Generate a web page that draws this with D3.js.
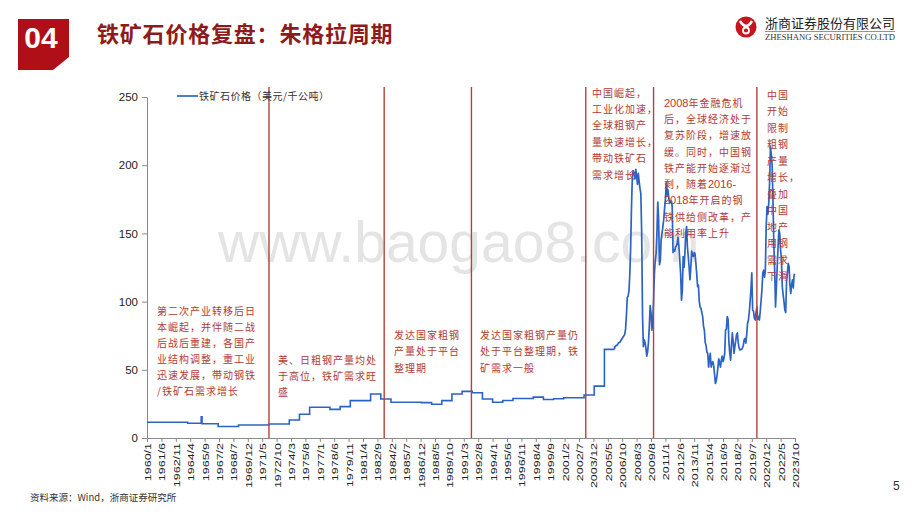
<!DOCTYPE html>
<html><head><meta charset="utf-8">
<script src="https://cdn.jsdelivr.net/npm/d3@7"></script>
<style>
html,body{margin:0;padding:0;background:#fff;}
svg{display:block;}
</style></head><body>
<svg id="c" width="920" height="518"></svg>
<script>
// ---------------- DATA ----------------
const pageTitle = "铁矿石价格复盘：朱格拉周期";
const sectionNo = "04";
const seriesName = "铁矿石价格（美元/千公吨）";
const sourceNote = "资料来源：Wind，浙商证券研究所";
const pageNo = "5";
const yTicks = [0, 50, 100, 150, 200, 250];
const xTickLabels = ["1960/1","1961/6","1962/11","1964/4","1965/9","1967/2","1968/7","1969/12","1971/5","1972/10",
  "1974/3","1975/8","1977/1","1978/6","1979/11","1981/4","1982/9","1984/2","1985/7","1986/12",
  "1988/5","1989/10","1991/3","1992/8","1994/1","1995/6","1996/11","1998/4","1999/9","2001/2",
  "2002/7","2003/12","2005/5","2006/10","2008/3","2009/8","2011/1","2012/6","2013/11","2015/4",
  "2016/9","2018/2","2019/7","2020/12","2022/5","2023/10"];
// contract-price period: month where the price level changes, and the new level
const contractMonths = ["1960/1","1964/1","1965/5","1965/6","1967/1","1969/1","1972/1","1974/1","1975/1","1976/1",
  "1978/1","1979/1","1980/1","1982/1","1983/1","1984/1","1987/1","1988/1","1989/1","1990/1",
  "1991/1","1992/1","1993/1","1994/1","1995/1","1996/1","1997/1","1998/1","1999/1","2000/1",
  "2001/1","2002/1","2003/1","2004/1","2005/1"];
const contractValues = [11.5, 10.8, 15.6, 10.4, 8.4, 9.5, 10.3, 13.2, 17.4, 22.5,
  21.0, 23.0, 27.4, 32.3, 28.6, 26.2, 25.9, 24.7, 27.4, 32.3,
  34.2, 33.2, 28.6, 26.2, 27.5, 29.0, 29.0, 30.0, 28.2, 28.8,
  29.5, 29.5, 31.5, 38.0, 65.0];
// monthly price period
const spotStart = "2006/1";
const spotValues = [
  67, 67, 68, 68, 69, 70, 70, 71, 72, 73, 74, 75,            // 2006
  76, 80, 90, 103, 104, 108, 120, 140, 170, 192, 196, 194,   // 2007
  190, 197, 192, 186, 194, 188, 183, 179, 150, 90, 67, 72,   // 2008
  70, 66, 60, 63, 70, 82, 97, 92, 79, 85, 100, 120,          // 2009
  130, 135, 150, 173, 160, 127, 130, 145, 150, 155, 160, 168,// 2010
  175, 187, 178, 182, 176, 172, 173, 174, 170, 136, 138, 137,// 2011
  140, 141, 143, 147, 140, 130, 120, 101, 108, 133, 125, 135,// 2012
  150, 155, 140, 133, 125, 116, 125, 137, 134, 133, 136, 135,// 2013
  128, 120, 111, 112, 100, 96, 95, 92, 89, 82, 79, 70,       // 2014
  68, 63, 62, 52, 58, 62, 52, 55, 56, 53, 47, 40,            // 2015
  42, 46, 52, 58, 55, 52, 57, 60, 56, 58, 62, 79,            // 2016
  80, 89, 87, 70, 62, 57, 68, 77, 71, 62, 67, 71,            // 2017
  76, 77, 70, 66, 64.5, 65, 65, 66, 68, 72, 73, 69.6,        // 2018
  76, 84, 86.5, 92, 100, 109, 121, 93.8, 93, 88, 86.5, 92,   // 2019
  96, 87, 89, 86.5, 93, 101, 109, 121, 123, 118, 123, 155,   // 2020
  169.6, 164, 172, 187, 213.6, 208, 200, 174.5, 143, 123, 96, 110, // 2021
  125.6, 140, 152.5, 150, 138, 131, 111, 105, 100, 93.8, 92, 113.6, // 2022
  121, 128, 126, 112, 106, 112, 116, 110, 120, 119.5         // 2023
];
// cycle dividers
const cycleLines = ["1972/1","1983/5","1991/12","2003/3","2009/11","2020/1"];
const annotations = [
  ["第二次产业转移后日","本崛起，并伴随二战","后战后重建，各国产","业结构调整，重工业","迅速发展，带动钢铁","/铁矿石需求增长"],
  ["美、日粗钢产量均处","于高位，铁矿需求旺","盛"],
  ["发达国家粗钢","产量处于平台","整理期"],
  ["发达国家粗钢产量仍","处于平台整理期，铁","矿需求一般"],
  ["中国崛起，","工业化加速，","全球粗钢产","量快速增长，","带动铁矿石","需求增长"],
  ["2008年金融危机","后，全球经济处于","复苏阶段，增速放","缓。同时，中国钢","铁产能开始逐渐过","剩，随着2016-","2018年开启的钢","铁供给侧改革，产","能利用率上升"],
  ["中国","开始","限制","粗钢","产量","增长，","叠加","中国","地产","用钢","需求","下滑"]
];

// ---------------- LAYOUT ----------------
const annLayout = [
  {x:157, y:311, lh:16.0},
  {x:278, y:360, lh:16.0},
  {x:394, y:335, lh:16.5},
  {x:480, y:335, lh:16.5},
  {x:592, y:93,  lh:16.4},
  {x:664, y:103, lh:16.3},
  {x:767, y:95,  lh:16.5}
];
const plot = {left:147, right:795, top:97, bottom:438};
const CJK = "'Noto Sans CJK SC','Noto Sans',sans-serif";
const LAT = "'Liberation Sans',Arial,sans-serif";
const lineBlue = "#2b64c4";
const redTxt = "#b33a34";
const divRed = "#b5413b";

const svg = d3.select("#c");
const parseM = s => { const [yy, mm] = s.split("/").map(Number); return (yy - 1960) * 12 + (mm - 1); };

const x = d3.scaleLinear()
  .domain([parseM(xTickLabels[0]), parseM(xTickLabels[xTickLabels.length - 1])])
  .range([plot.left, plot.right]);
const y = d3.scaleLinear().domain([0, 250]).range([plot.bottom, plot.top]);

// ---------------- HEADER ----------------
svg.append("path").attr("d","M18,19 L69,19 L69,57 L53,70 L18,70 Z").attr("fill","#b10f17");
svg.append("text").attr("x",41).attr("y",48).attr("text-anchor","middle")
  .style("font-family",LAT).style("font-weight","bold").style("font-size","30px").attr("fill","#fff").text(sectionNo);
svg.append("text").attr("x",97).attr("y",42)
  .style("font-family",CJK).style("font-weight","bold").style("font-size","22px").style("letter-spacing","0.8px")
  .attr("fill","#8e1b1b").text(pageTitle);

// logo
const lg = svg.append("g").attr("transform","translate(746,27)");
lg.append("circle").attr("r",10.5).attr("fill","#c4161c");
lg.append("path").attr("d","M-6,-6 Q0,4 6,-6").attr("fill","none").attr("stroke","#fff").attr("stroke-width",2.6);
lg.append("circle").attr("cy",3.5).attr("r",3).attr("fill","none").attr("stroke","#fff").attr("stroke-width",1.8);
svg.append("text").attr("x",765).attr("y",28).attr("textLength",130).attr("lengthAdjust","spacingAndGlyphs")
  .style("font-family",CJK).style("font-size","13px").attr("fill","#222").text("浙商证券股份有限公司");
svg.append("line").attr("x1",765).attr("x2",895).attr("y1",31.5).attr("y2",31.5).attr("stroke","#777").attr("stroke-width",0.8);
svg.append("text").attr("x",765).attr("y",39.5).attr("textLength",130).attr("lengthAdjust","spacingAndGlyphs")
  .style("font-family","'Liberation Serif','Times New Roman',serif").style("font-size","8px").attr("fill","#333")
  .text("ZHESHANG SECURITIES CO.LTD");

// ---------------- WATERMARK ----------------
svg.append("text").attr("x",218).attr("y",262)
  .style("font-family",LAT).style("font-size","57px").attr("fill","#e4e4e4").text("www.baogao8.com");

// ---------------- AXES ----------------
const yAxis = svg.append("g").attr("transform",`translate(${plot.left},0)`)
  .call(d3.axisLeft(y).tickValues(yTicks).tickSize(5).tickPadding(4).tickSizeOuter(0));
yAxis.select(".domain").attr("stroke","#8a8a8a");
yAxis.selectAll(".tick line").attr("stroke","#8a8a8a");
yAxis.selectAll("text").style("font-family",LAT).style("font-size","11.5px").attr("fill","#222");

const xAxis = svg.append("g").attr("transform",`translate(0,${plot.bottom})`)
  .call(d3.axisBottom(x).tickValues(xTickLabels.map(parseM)).tickFormat((d,i)=>xTickLabels[i]).tickSize(4).tickSizeOuter(0));
xAxis.select(".domain").attr("stroke","#8a8a8a");
xAxis.selectAll(".tick line").attr("stroke","#8a8a8a");
xAxis.selectAll("text")
  .attr("transform","rotate(-90) scale(1,0.78)")
  .attr("x",-5).attr("y",0).attr("dy","0.35em")
  .style("text-anchor","end")
  .style("font-family",LAT).style("font-size","12.5px").attr("fill","#222");

// ---------------- SERIES ----------------
const contractPts = contractMonths.map((m,i)=>({m:parseM(m), v:contractValues[i]}));
const s0 = parseM(spotStart);
contractPts.push({m:s0, v:contractValues[contractValues.length-1]});
const spotPts = [{m:s0, v:contractValues[contractValues.length-1]}]
  .concat(spotValues.map((v,i)=>({m:s0+i, v})));

svg.append("path").datum(contractPts)
  .attr("d", d3.line().x(d=>x(d.m)).y(d=>y(d.v)).curve(d3.curveStepAfter))
  .attr("fill","none").attr("stroke",lineBlue).attr("stroke-width",1.6);
svg.append("path").datum(spotPts)
  .attr("d", d3.line().x(d=>x(d.m)).y(d=>y(d.v)))
  .attr("fill","none").attr("stroke",lineBlue).attr("stroke-width",1.7).attr("stroke-linejoin","round");

// ---------------- CYCLE DIVIDERS ----------------
svg.selectAll(".cyc").data(cycleLines).join("line").attr("class","cyc")
  .attr("x1",d=>x(parseM(d))).attr("x2",d=>x(parseM(d)))
  .attr("y1",plot.top-10).attr("y2",y(0))
  .attr("stroke",divRed).attr("stroke-width",1.4);

// ---------------- ANNOTATIONS ----------------
annotations.forEach((lines,k)=>{
  const L = annLayout[k];
  const t = svg.append("text").style("font-family",CJK).style("font-size","10px")
    .style("letter-spacing","1px").attr("fill",redTxt);
  lines.forEach((ln,j)=>{
    const row = t.append("tspan").attr("x",L.x).attr("y",L.y + j*L.lh).attr("dy","0.36em");
    ln.split(/(\d+-?)/).filter(s=>s.length).forEach(seg=>{
      const sp = row.append("tspan").text(seg);
      if (/^\d/.test(seg)) sp.style("font-family",LAT).style("font-size","11px").style("letter-spacing","0px");
    });
  });
});

// ---------------- LEGEND ----------------
svg.append("line").attr("x1",177).attr("x2",198).attr("y1",96).attr("y2",96)
  .attr("stroke","#4f7fcb").attr("stroke-width",2);
svg.append("text").attr("x",199).attr("y",96).attr("dy","0.36em")
  .style("font-family",CJK).style("font-size","10px").style("letter-spacing","0.5px").attr("fill","#333").text(seriesName);

// ---------------- FOOTER ----------------
svg.append("text").attr("x",30).attr("y",498).attr("dy","0.35em")
  .style("font-family",CJK).style("font-size","9.5px").attr("fill","#333").text(sourceNote);
svg.append("text").attr("x",893).attr("y",486).attr("dy","0.35em")
  .style("font-family",LAT).style("font-size","12px").attr("fill","#333").text(pageNo);
</script>
</body></html>
